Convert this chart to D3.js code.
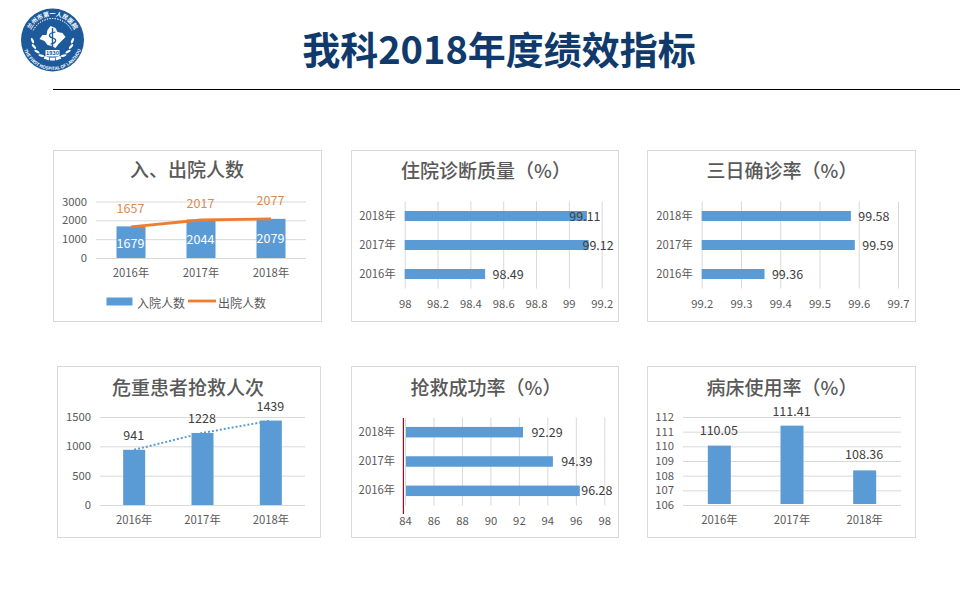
<!DOCTYPE html>
<html>
<head>
<meta charset="utf-8">
<title>我科2018年度绩效指标</title>
<script src="https://cdn.jsdelivr.net/npm/d3@7/dist/d3.min.js"></script>
<style>
	html, body { margin: 0; padding: 0; background: #fff; }
	svg { display: block; }
	text { font-family: "Noto Sans CJK SC", sans-serif; }
	.tick text { font-size: 11.3px; fill: #595959; }
	.tick line { stroke: #d9d9d9; }
	.panelTitle { font-size: 19px; font-weight: 500; fill: #595959; text-anchor: middle; }
	.valueLabel { font-size: 12.5px; fill: #404040; text-anchor: middle; }
</style>
</head>
<body>
<div id="chart"></div>
<script>
// data
var years = ["2016年", "2017年", "2018年"];
var admissions = [1679, 2044, 2079];
var discharges = [1657, 2017, 2077];
var diagnosisQuality = [98.49, 99.12, 99.11];
var threeDayRate = [99.36, 99.59, 99.58];
var rescueCount = [941, 1228, 1439];
var rescueSuccess = [96.28, 94.39, 92.29];
var bedUsage = [110.05, 111.41, 108.36];

var admissionTicks = [0, 1000, 2000, 3000];
var diagnosisTicks = [98, 98.2, 98.4, 98.6, 98.8, 99, 99.2];
var threeDayTicks = [99.2, 99.3, 99.4, 99.5, 99.6, 99.7];
var rescueCountTicks = [0, 500, 1000, 1500];
var rescueSuccessTicks = [84, 86, 88, 90, 92, 94, 96, 98];
var bedUsageTicks = [106, 107, 108, 109, 110, 111, 112];

var blue = "#5b9bd5";
var orange = "#ed7d31";

var svg = d3.select("#chart").append("svg")
	.attr("width", 960)
	.attr("height", 600);

function drawPanel(box, title, titleX, titleY)
{
	svg.append("rect")
		.attr("x", box[0] + 0.5).attr("y", box[1] + 0.5)
		.attr("width", box[2] - box[0]).attr("height", box[3] - box[1])
		.attr("fill", "#fff").attr("stroke", "#d9d9d9");
	svg.append("text")
		.attr("class", "panelTitle")
		.attr("x", titleX).attr("y", titleY)
		.attr("dominant-baseline", "central")
		.text(title);
}

// column chart, returns its scales so overlays can be added
function drawColumns(o)
{
	var x = d3.scaleBand().domain(years).range([o.left, o.right]);
	var y = d3.scaleLinear().domain(o.domain).range([o.bottom, o.top]);

	svg.append("g")
		.attr("transform", "translate(" + o.left + ",0)")
		.call(d3.axisLeft(y).tickValues(o.ticks).tickSize(-(o.right - o.left)).tickPadding(9).tickFormat(d3.format("d")))
		.call(function(g) { g.select(".domain").remove(); });

	svg.append("g")
		.attr("transform", "translate(0," + o.bottom + ")")
		.call(d3.axisBottom(x).tickSize(0).tickPadding(o.xPad))
		.call(function(g) { g.select(".domain").remove(); });

	svg.selectAll(null)
		.data(o.values)
		.enter().append("rect")
		.attr("x", function(d, i) { return x(years[i]) + x.bandwidth() / 2 - o.barWidth / 2; })
		.attr("y", function(d) { return y(d); })
		.attr("width", o.barWidth)
		.attr("height", function(d) { return y(o.domain[0]) - y(d) - (o.barGap || 0); })
		.attr("fill", blue);

	return { x: x, y: y };
}

// horizontal bars, 2018 on top
function drawBars(o)
{
	var x = d3.scaleLinear().domain(o.domain).range([o.left, o.right]);
	var y = d3.scaleBand().domain(years).range([o.bottom, o.top]);

	svg.append("g")
		.attr("transform", "translate(0," + o.bottom + ")")
		.call(d3.axisBottom(x).tickValues(o.ticks).tickSize(-(o.bottom - o.top)).tickPadding(o.xPad).tickFormat(d3.format("")))
		.call(function(g) { g.select(".domain").remove(); });

	svg.append("g")
		.attr("transform", "translate(" + o.left + ",0)")
		.call(d3.axisLeft(y).tickSize(0).tickPadding(o.yPad))
		.call(function(g) { g.select(".domain").remove(); });

	svg.selectAll(null)
		.data(o.values)
		.enter().append("rect")
		.attr("x", x(o.domain[0]) + (o.barGap || 0))
		.attr("y", function(d, i) { return y(years[i]) + y.bandwidth() / 2 - o.barHeight / 2; })
		.attr("width", function(d) { return x(d) - x(o.domain[0]) - (o.barGap || 0); })
		.attr("height", o.barHeight)
		.attr("fill", blue);

	svg.selectAll(null)
		.data(o.values)
		.enter().append("text")
		.attr("class", "valueLabel")
		.attr("x", function(d, i) { return x(d) + o.labelDx[i]; })
		.attr("y", function(d, i) { return y(years[i]) + y.bandwidth() / 2 - 1; })
		.attr("dominant-baseline", "central")
		.text(function(d) { return d3.format(".2f")(d); });

	return { x: x, y: y };
}

// labels were placed by hand in the original, so each has its own offset
function columnLabels(s, values, dy, fill, fmt)
{
	svg.selectAll(null)
		.data(values)
		.enter().append("text")
		.attr("class", "valueLabel")
		.attr("x", function(d, i) { return s.x(years[i]) + s.x.bandwidth() / 2 - 0.5; })
		.attr("y", function(d, i) { return s.y(d) + dy[i]; })
		.attr("dominant-baseline", "central")
		.style("fill", fill)
		.text(function(d) { return fmt ? fmt(d) : d; });
}

function drawLogo(cx, cy, r)
{
	var g = svg.append("g").attr("transform", "translate(" + cx + "," + cy + ")");
	var navy = "#1c5a9c";

	g.append("circle").attr("r", r).attr("fill", navy);

	g.append("path").attr("id", "logoTop")
		.attr("d", "M" + (-(r - 7.5)) + ",0 A" + (r - 7.5) + "," + (r - 7.5) + " 0 0 1 " + (r - 7.5) + ",0")
		.attr("fill", "none");
	g.append("path").attr("id", "logoBottom")
		.attr("d", "M" + (-(r - 1.5)) + ",0 A" + (r - 1.5) + "," + (r - 1.5) + " 0 0 0 " + (r - 1.5) + ",0")
		.attr("fill", "none");

	// ring of dots under the top text
	g.append("path")
		.attr("d", d3.arc()({ innerRadius: r - 10, outerRadius: r - 10, startAngle: -1.1, endAngle: 1.1 }))
		.attr("fill", "none").attr("stroke", "#fff").attr("stroke-width", 1).attr("stroke-dasharray", "1 1.6");

	g.append("text").attr("fill", "#fff").style("font-size", "6px").style("font-weight", "700")
		.append("textPath").attr("href", "#logoTop").attr("startOffset", "50%").attr("text-anchor", "middle")
		.text("兰州市第一人民医院");
	g.append("text").attr("fill", "#fff").style("font-size", "4.4px").style("font-weight", "700")
		.append("textPath").attr("href", "#logoBottom").attr("startOffset", "50%").attr("text-anchor", "middle")
		.text("THE FIRST HOSPITAL OF LANZHOU");

	// wreath
	[-1, 1].forEach(function(side)
	{
		d3.range(0, 7).forEach(function(k)
		{
			var a = (5 + k * 17) * Math.PI / 180;
			g.append("ellipse")
				.attr("rx", 1.2).attr("ry", 3)
				.attr("fill", "#fff")
				.attr("transform", "translate(" + (side * 20 * Math.cos(a)) + "," + (20 * Math.sin(a) - 1) + ") rotate(" + (side * (a * 180 / Math.PI + 20)) + ")");
		});
	});

	// white emblem with the staff
	g.append("path")
		.attr("d", "M-2,-14 L3,-12 L5,-8 L10,-7 L13,-3 L9,1 L6,4 L3,8 L-1,6 L-5,5 L-8,1 L-13,-1 L-10,-5 L-6,-5 L-5,-10 Z")
		.attr("fill", "#fff");
	g.append("path").attr("d", "M0,-12 L0,8").attr("stroke", navy).attr("stroke-width", 1.4);
	g.append("path").attr("d", "M3,-8 C-5,-7 -4,-3 0,-2 C5,-1 4,3 -2,4").attr("fill", "none").attr("stroke", navy).attr("stroke-width", 1.2);

	g.append("rect").attr("x", -7).attr("y", 10).attr("width", 14).attr("height", 6.5).attr("fill", "#fff");
	g.append("text").attr("y", 13.3).attr("text-anchor", "middle").attr("dominant-baseline", "central")
		.attr("fill", navy).style("font-size", "5.5px").style("font-weight", "700").text("1930");
}

// header
drawLogo(52.5, 40, 31.5);
svg.append("text")
	.attr("x", 499).attr("y", 47)
	.attr("text-anchor", "middle").attr("dominant-baseline", "central")
	.attr("fill", "#0f3a6b")
	.style("font-size", "38px").style("font-weight", "700")
	.text("我科2018年度绩效指标");
svg.append("line")
	.attr("x1", 53).attr("x2", 960).attr("y1", 89.5).attr("y2", 89.5)
	.attr("stroke", "#000");

// 入、出院人数
drawPanel([53, 150, 321, 321], "入、出院人数", 187, 168.5);
var admit = drawColumns({ left: 96, right: 306, top: 201.5, bottom: 258, domain: [0, 3000], ticks: admissionTicks, values: admissions, barWidth: 29, xPad: 11 });
var dischargeLine = d3.line()
	.x(function(d, i) { return admit.x(years[i]) + admit.x.bandwidth() / 2; })
	.y(function(d) { return admit.y(d); });
svg.append("path")
	.datum(discharges)
	.attr("d", dischargeLine)
	.attr("fill", "none").attr("stroke", orange).attr("stroke-width", 2.8);
columnLabels(admit, admissions, [16, 19, 19], "#fff");
columnLabels(admit, discharges, [-19, -18, -19], "#d98a55");

// legend
svg.append("rect").attr("x", 106.5).attr("y", 297.5).attr("width", 26).attr("height", 8).attr("fill", blue);
svg.append("line").attr("x1", 188).attr("x2", 216).attr("y1", 301).attr("y2", 301).attr("stroke", orange).attr("stroke-width", 2.8);
svg.append("text").attr("x", 137).attr("y", 302.5).attr("dominant-baseline", "central").attr("fill", "#595959").style("font-size", "12px").text("入院人数");
svg.append("text").attr("x", 218).attr("y", 302.5).attr("dominant-baseline", "central").attr("fill", "#595959").style("font-size", "12px").text("出院人数");

// 住院诊断质量
drawPanel([351, 150, 618, 321], "住院诊断质量（%）", 486, 169.5);
drawBars({ left: 404.7, right: 601.7, top: 201.5, bottom: 288.5, domain: [98, 99.2], ticks: diagnosisTicks, values: diagnosisQuality, barHeight: 10, xPad: 11, yPad: 9, labelDx: [23, 9.5, -2] });

// 三日确诊率
drawPanel([647, 150, 915, 321], "三日确诊率（%）", 782, 169.5);
drawBars({ left: 701.7, right: 898, top: 201.5, bottom: 288.5, domain: [99.2, 99.7], ticks: threeDayTicks, values: threeDayRate, barHeight: 10, xPad: 11, yPad: 9, labelDx: [23, 23, 23] });

// 危重患者抢救人次
drawPanel([57, 366, 320, 537], "危重患者抢救人次", 188, 386);
var rescue = drawColumns({ left: 100, right: 305, top: 417, bottom: 505, domain: [0, 1500], ticks: rescueCountTicks, values: rescueCount, barWidth: 22, xPad: 11 });
var rescueLine = d3.line()
	.x(function(d, i) { return rescue.x(years[i]) + rescue.x.bandwidth() / 2; })
	.y(function(d) { return rescue.y(d); });
svg.append("path")
	.datum(rescueCount)
	.attr("d", rescueLine)
	.attr("fill", "none").attr("stroke", blue).attr("stroke-width", 2).attr("stroke-dasharray", "2 2");
columnLabels(rescue, rescueCount, [-15, -15, -15], "#404040");

// 抢救成功率
drawPanel([351, 366, 618, 537], "抢救成功率（%）", 486, 386.5);
drawBars({ left: 405, right: 604.3, top: 417.5, bottom: 505.5, domain: [84, 98], ticks: rescueSuccessTicks, values: rescueSuccess, barHeight: 10.5, barGap: 1, xPad: 11, yPad: 10, labelDx: [17, 24, 24] });
svg.append("line")
	.attr("x1", 403.4).attr("x2", 403.4).attr("y1", 418).attr("y2", 514)
	.attr("stroke", "#8b0f26").attr("stroke-width", 1.2);

// 病床使用率
drawPanel([647, 366, 915, 537], "病床使用率（%）", 782, 386);
var beds = drawColumns({ left: 683, right: 901, top: 417, bottom: 505, domain: [106, 112], ticks: bedUsageTicks, values: bedUsage, barWidth: 23, barGap: 1, xPad: 11 });
columnLabels(beds, bedUsage, [-16, -15, -17], "#404040", d3.format(".2f"));
</script>
</body>
</html>
